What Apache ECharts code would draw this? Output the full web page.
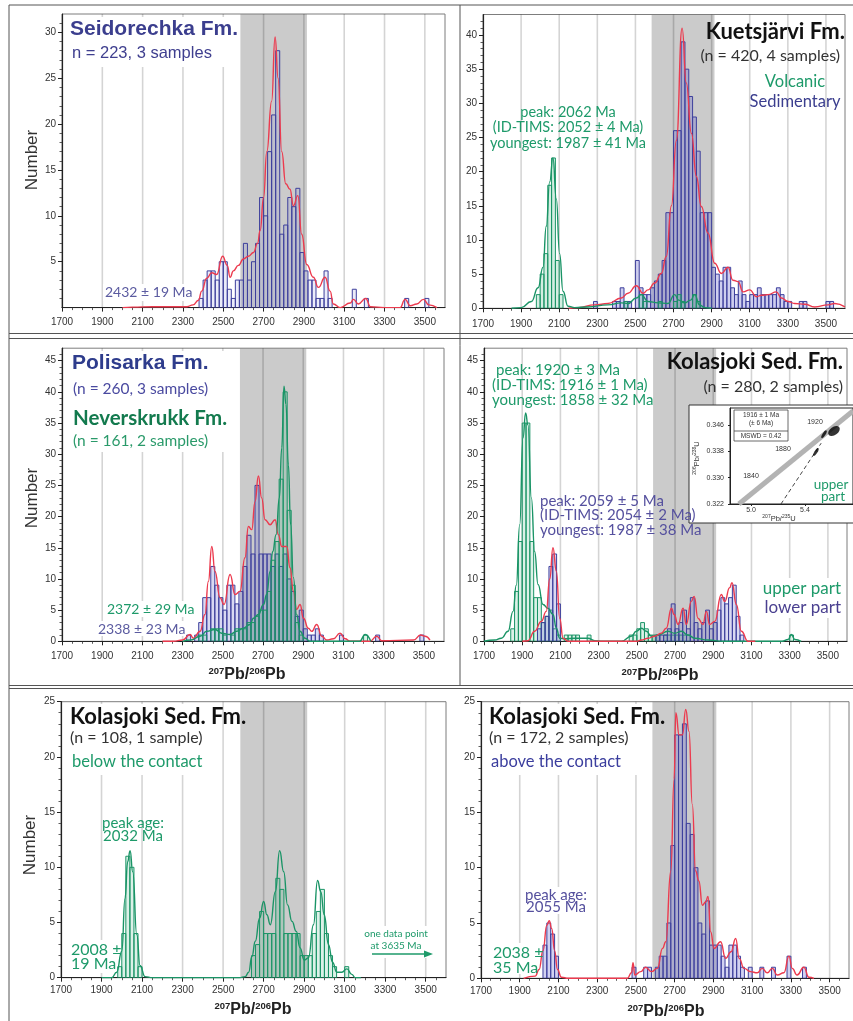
<!DOCTYPE html>
<html><head><meta charset="utf-8">
<script src="https://cdn.jsdelivr.net/npm/echarts@6/dist/echarts.min.js"></script>
<style>html,body{margin:0;padding:0;background:#fff}#c{width:853px;height:1021px}</style>
</head><body><div id="c"></div><script>
// ---------------- data ----------------
const X_TICKS = [1700,1900,2100,2300,2500,2700,2900,3100,3300,3500];
const X_MIN = 1700, X_MAX = 3600, BIN = 20;
const BAND = [2585, 2915];
const Y_TICKS_1 = [5,10,15,20,25,30];
const Y_TICKS_2 = [0,5,10,15,20,25,30,35,40];
const Y_TICKS_3 = [0,5,10,15,20,25,30,35,40,45];
const Y_TICKS_4 = [0,5,10,15,20,25,30,35,40,45];
const Y_TICKS_5 = [0,5,10,15,20,25];
const Y_TICKS_6 = [0,5,10,15,20,25];

// Panel 1 Seidorechka
const seidStart = [2380,2400,2420,2440,2460,2480,2500,2520,2540,2560,2580,2600,2620,2640,2660,2680,2700,2720,2740,2760,2780,2800,2820,2840,2860,2880,2900,2920,2940,2960,2980,3000,3020,3140,3200,3400,3500];
const seidCount = [1,3,4,4,3,5,5,2,1,3,3,7,3,5,7,12,10,17,21,28,8,9,12,11,13,6,4,3,3,1,1,4,1,2,1,1,1];
const seidCurveAge = [2000,2050,2150,2250,2320,2350,2377,2393,2418,2443,2467,2497,2520,2534,2550,2575,2600,2625,2650,2670,2683,2700,2716,2740,2757,2772,2790,2810,2831,2848,2870,2889,2914,2947,2972,3005,3030,3046,3080,3130,3146,3170,3207,3230,3300,3377,3402,3427,3460,3493,3520,3560];
const seidCurveVal = [0,0.05,0.1,0.1,0.1,0.3,0.8,1.8,3.2,3.8,3.6,5.6,4.6,3.3,4,4.6,5.3,5.6,6,7,8.4,12,17,22.5,29.5,25,17,13.5,12.9,11.1,12.2,8,4.7,3.3,2.2,3.3,1.8,0.4,0,0.5,0.9,0.4,1.0,0.1,0,0,0.9,0.2,0.4,0.9,0.3,0];

// Panel 2 Kuetsjarvi
const kuSedStart = [2280,2380,2400,2420,2440,2460,2500,2520,2540,2560,2580,2600,2620,2640,2660,2680,2700,2720,2740,2760,2780,2800,2820,2840,2860,2880,2900,2920,2940,2960,2980,3000,3020,3040,3060,3080,3100,3120,3140,3160,3180,3200,3220,3240,3260,3280,3300,3360,3380,3500,3520];
const kuSedCount = [1,1,1,3,1,1,7,3,2,2,3,4,5,7,14,14,26,26,39,35,31,28,23,14,14,14,6,5,4,6,6,3,2,4,2,1,2,2,3,2,2,2,2,3,2,1,1,1,1,1,1];
const kuVolStart = [1980,2000,2020,2040,2060,2080,2100,2440,2520,2540,2620,2700,2720,2740,2800,2820];
const kuVolCount = [2,5,8,18,22,7,2,1,2,1,1,1,2,1,2,1];
const kuSedCurveAge = [2150,2200,2286,2356,2426,2461,2505,2540,2566,2601,2636,2662,2689,2715,2745,2767,2794,2820,2846,2881,2916,2951,2986,3012,3039,3065,3100,3135,3161,3196,3240,3266,3301,3336,3389,3441,3511,3546,3600];
const kuSedCurveVal = [0,0.1,0.5,0.7,1.5,2.2,3.3,2.2,2.7,3.7,5.1,7.6,15,24.6,41,33,25.6,19.3,14.9,11,6.6,5.1,6,4.1,3.9,2.4,2.7,1.7,1.9,2,2.4,1.5,1,0.7,0.6,0.2,0.5,0.7,0.2];
const kuVolCurveAge = [1850,1901,1954,1989,2015,2032,2050,2067,2085,2102,2120,2146,2181,2250,2356,2426,2461,2505,2531,2566,2619,2671,2706,2727,2758,2790,2811,2837,2864,2900];
const kuVolCurveVal = [0,0.1,1,3,6,12,18.5,22,16,8,2.5,0.3,0.1,0.2,0.5,0.8,0.7,1.5,2,1,0.8,0.7,2,1.2,0.8,1.2,2,0.5,0.1,0];

// Panel 3 Polisarka / Neverskrukk
const poliStart = [2320,2360,2380,2400,2420,2440,2460,2480,2500,2520,2540,2560,2580,2600,2620,2640,2660,2680,2700,2720,2740,2760,2780,2800,2820,2840,2860,2880,2900,2920,2940,2960,2980,3080,3260,3480];
const poliCount = [1,1,3,7,7,12,9,7,5,9,9,6,8,12,17,14,25,14,14,14,12,14,12,14,10,8,4,5,2,1,1,2,1,1,1,1];
const poliCurveAge = [2200,2254,2300,2337,2353,2387,2411,2428,2445,2461,2486,2506,2536,2561,2585,2610,2627,2644,2660,2677,2693,2710,2735,2760,2776,2793,2818,2834,2851,2867,2884,2901,2925,2942,2967,2992,3017,3050,3083,3108,3133,3230,3266,3290,3448,3484,3506,3530];
const poliCurveVal = [0,0,0.2,1.1,0.5,1.6,4.3,9.6,15.2,11.2,7,5.9,10.7,7.5,8,13.4,18.4,17.9,22.4,26.5,23,19.5,18.7,19.5,17.1,15.2,15.2,11.8,8,5.1,5.9,3.7,2.1,1.6,2.7,0.8,0.2,0.4,1.3,0.4,0,0,0.8,0.1,0.2,1,0.8,0.2];
const neverStart = [2380,2400,2440,2460,2480,2500,2540,2560,2580,2600,2620,2640,2660,2680,2700,2720,2740,2760,2780,2800,2820,2840,2860,2880,3200];
const neverCount = [1,1,2,2,2,1,1,2,2,2,3,3,4,5,5,8,13,16,26,40,21,9,3,1,1];
const neverCurveAge = [2300,2340,2387,2420,2461,2494,2536,2569,2602,2635,2652,2677,2702,2718,2735,2748,2765,2781,2793,2804,2814,2826,2837,2851,2867,2884,2909,2934,3180,3208,3236];
const neverCurveVal = [0,0.2,0.8,1.6,1.9,1.3,1.1,1.6,2.1,2.7,3.7,4.3,5.9,7.5,11.2,14.4,17.1,23,31,40.9,38,28.3,18.7,10.2,4.3,1.6,0.5,0,0,1.1,0];

// Panel 4 Kolasjoki upper / lower
const upperStart = [1840,1860,1880,1900,1920,1940,1960,1980,2000,2020,2040,2060,2080,2120,2140,2160,2180,2240,2460,2480,2500,2520,2540,2560,2580,2600,2640,2660,2680,2700,2720,2740,2760,3300];
const upperCount = [2,8,16,35,35,16,7,7,3,4,5,2,1,1,1,1,1,1,1,1,2,3,2,1,1,1,1,1,1,1,1,1,1,1];
const upperCurveAge = [1700,1756,1791,1826,1852,1869,1887,1904,1918,1930,1948,1965,1983,2009,2035,2061,2079,2096,2122,2175,2244,2279,2320,2420,2471,2497,2524,2550,2576,2611,2663,2698,2733,2768,2803,2873,2950,3260,3292,3309,3327,3360];
const upperCurveVal = [0,0.2,0.5,1.6,4.8,9,18.7,32.6,36.6,34.7,23,14.4,9.1,5.9,5.3,4.3,2.1,0.5,0.4,0.5,0.5,0.1,0,0,0.8,1.6,2.1,1.6,0.8,1,1.6,1.3,1.6,1,0.5,0.2,0,0,0.3,1.1,0.3,0];
const lowerStart = [1980,2000,2020,2040,2060,2080,2600,2620,2640,2660,2680,2700,2720,2740,2760,2780,2800,2820,2840,2860,2880,2900,2920,2940,2960,2980,3000,3020,3040];
const lowerCount = [2,3,4,12,14,6,1,1,1,2,6,2,3,5,2,7,3,2,3,5,2,3,5,7,6,7,9,4,1];
const lowerCurveAge = [1900,1930,1965,2000,2026,2044,2061,2079,2096,2114,2140,2500,2524,2559,2593,2628,2654,2681,2695,2716,2742,2759,2785,2800,2820,2846,2864,2881,2908,2942,2960,2986,2998,3021,3047,3082,3120];
const lowerCurveVal = [0,0.1,1.6,3.2,4.8,10,15,11.2,3.7,0.5,0,0,0.2,0.5,0.8,1.3,2.1,5.3,4.3,2.7,5.3,2.7,6.4,7.2,3.7,2.7,4.8,2.7,3.2,7.5,6.4,8.6,9.4,5.9,1.6,0,0];

// Panel 5 below the contact
const belowStart = [1980,2000,2020,2040,2060,2080,2640,2660,2680,2700,2720,2740,2760,2780,2800,2820,2840,2860,2880,2900,2920,2940,2960,2980,3000,3020,3040,3100];
const belowCount = [1,4,11,10,4,1,2,3,6,4,4,4,9,8,4,4,4,4,2,2,2,4,6,8,4,2,1,1];
const belowCurveAge = [1900,1950,1975,2000,2016,2029,2041,2054,2074,2090,2115,2150,2580,2609,2626,2642,2659,2680,2700,2716,2733,2758,2779,2799,2818,2840,2861,2880,2900,2921,2946,2966,2982,2999,3020,3040,3061,3086,3111,3135,3152,3180];
const belowCurveVal = [0,0,0.5,2.4,7.2,10.5,11.5,9.6,3.9,1.1,0.1,0,0,0.1,0.5,1.9,3.3,5.4,6.9,5.7,4.8,7.8,11.5,9.6,6.6,5.1,4.2,2.7,1.6,1.8,4.8,8.8,7.8,5.7,3,1.4,0.5,0.5,0.8,0.3,0,0];

// Panel 6 above the contact
const aboveStart = [2020,2040,2060,2080,2480,2540,2560,2600,2620,2640,2660,2680,2700,2720,2740,2760,2780,2800,2820,2840,2860,2880,2900,2920,2940,2960,2980,3000,3020,3040,3080,3140,3200,3280,3360];
const aboveCount = [3,5,4,2,1,1,1,1,2,2,5,12,22,22,23,14,13,10,5,4,7,3,3,3,2,1,3,3,2,1,1,1,1,2,1];
const aboveCurveAge = [1920,1980,2000,2020,2040,2052,2065,2080,2095,2115,2150,2456,2477,2485,2494,2525,2550,2580,2611,2637,2654,2680,2697,2706,2723,2740,2757,2774,2791,2808,2825,2843,2860,2872,2886,2903,2937,2963,2991,3015,3033,3058,3092,3126,3152,3178,3204,3230,3264,3290,3307,3332,3367,3393,3419];
const aboveCurveVal = [0,0.2,0.8,2.5,4.8,5.2,4.5,2.5,0.8,0.1,0,0,0.5,1.4,0.3,0.6,1,0.6,0.9,2.7,3.3,9.7,18,24,22,22,24.3,22.3,15.7,9.7,8.8,6.6,6.9,7.4,4.2,2.7,3.3,1.8,2.4,3.6,1.8,0.9,0.6,0.5,0.9,0.5,0.9,0.3,0.5,2,0.9,0.3,1,0.1,0];

// Inset (concordia)
const INSET_X_TICKS = [5.0, 5.4];
const INSET_Y_TICKS = [0.322, 0.330, 0.338, 0.346];
const concordiaX = [4.91, 5.756], concordiaY = [0.322, 0.3503];
const discordiaX = [5.222, 5.52], discordiaY = [0.322, 0.3405];
const ellipseX = [5.615], ellipseY = [0.3442];
const dashX = [5.481, 5.541], dashY = [0.3378, 0.3432];

// ---------------- styling / layout ----------------
const PURPLE = '#3d3f9c', GREEN = '#1a9466', RED = '#ec3a4e';
const GTXT = '#1e9a6a', PTXT = '#55509e';
const L = [
  {left:62, top:14, width:383, height:293.6, ymax:32, yt:Y_TICKS_1, xm:10},
  {left:483, top:14.5, width:362, height:293.8, ymax:43, yt:Y_TICKS_2, xm:11},
  {left:62, top:348.2, width:382, height:293.1, ymax:47, yt:Y_TICKS_3, xm:10},
  {left:484, top:348.2, width:363, height:293.1, ymax:47, yt:Y_TICKS_4, xm:10},
  {left:61, top:701.7, width:385, height:276, ymax:25, yt:Y_TICKS_5, xm:8},
  {left:481, top:701.7, width:368, height:276.6, ymax:25, yt:Y_TICKS_6, xm:8}
];

const grids = L.map(l => ({left:l.left, top:l.top, width:l.width, height:l.height, show:true,
  borderColor:'#7d7d7d', borderWidth:1, backgroundColor:'transparent', outerBoundsMode:'none', containLabel:false}));
grids.push({left:730, top:408, width:123, height:96, show:true, borderColor:'#222', borderWidth:1,
  backgroundColor:'#fff', z:60, outerBoundsMode:'none', containLabel:false});

const plain = v => String(Math.round(v));
const xAxes = L.map((l,i) => ({type:'value', gridIndex:i, min:X_MIN, max:X_MAX, interval:200,
  axisLine:{show:true, onZero:false, lineStyle:{color:'#222', width:1.2}},
  axisTick:{show:true, customValues:X_TICKS, length:4, lineStyle:{color:'#222', width:1}},
  minorTick:{show:true, splitNumber:4, length:2.5, lineStyle:{color:'#333', width:0.8}},
  axisLabel:{customValues:X_TICKS, fontSize:10, color:'#333', margin:l.xm, fontFamily:'Liberation Sans', formatter:plain},
  splitLine:{show:false}}));
const yAxes = L.map((l,i) => ({type:'value', gridIndex:i, min:0, max:l.ymax, interval:5,
  axisLine:{show:true, onZero:false, lineStyle:{color:'#222', width:1.2}},
  axisTick:{show:true, customValues:l.yt, length:4, lineStyle:{color:'#222', width:1}},
  minorTick:{show:true, splitNumber:5, length:2.5, lineStyle:{color:'#333', width:0.8}},
  axisLabel:{customValues:l.yt, fontSize:10, color:'#333', margin:6, fontFamily:'Liberation Sans', formatter:plain},
  splitLine:{show:false}}));
xAxes.push({type:'value', gridIndex:6, min:4.844, max:5.756, z:61,
  axisLine:{show:true, onZero:false, lineStyle:{color:'#222', width:1}},
  axisTick:{show:true, customValues:INSET_X_TICKS, length:2, lineStyle:{color:'#222'}},
  axisLabel:{customValues:INSET_X_TICKS, fontSize:7, color:'#333', margin:3, fontFamily:'Liberation Sans', formatter:v=>(+v).toFixed(1)},
  splitLine:{show:false}});
yAxes.push({type:'value', gridIndex:6, min:0.322, max:0.3512, z:61,
  axisLine:{show:true, onZero:false, lineStyle:{color:'#222', width:1}},
  axisTick:{show:true, customValues:INSET_Y_TICKS, length:2, lineStyle:{color:'#222'}},
  axisLabel:{customValues:INSET_Y_TICKS, fontSize:7, color:'#333', margin:6, fontFamily:'Liberation Sans', formatter:v=>(+v).toFixed(3)},
  splitLine:{show:false}});

function bandSeries(g){
  return {type:'custom', xAxisIndex:g, yAxisIndex:g, z:-1, silent:true, animation:false,
    data:[[BAND[0], BAND[1]]], encode:{x:[0,1]},
    renderItem:function(params, api){
      const cs = params.coordSys;
      const a = api.coord([api.value(0), 0]), b = api.coord([api.value(1), 0]);
      return {type:'rect', shape:{x:a[0], y:cs.y, width:b[0]-a[0], height:cs.height}, style:{fill:'#cbcbcb'}};
    }};
}
function gridLineSeries(g){
  return {type:'custom', xAxisIndex:g, yAxisIndex:g, z:0, silent:true, animation:false,
    data:X_TICKS.slice(1).map(v=>[v,0]), encode:{x:0, y:1},
    renderItem:function(params, api){
      const cs = params.coordSys;
      const p = api.coord([api.value(0), 0]);
      return {type:'line', shape:{x1:p[0], y1:cs.y, x2:p[0], y2:cs.y+cs.height}, style:{stroke:'rgba(0,0,0,0.17)', lineWidth:1.6}};
    }};
}
function histSeries(g, starts, counts, fill, stroke, z){
  return {type:'custom', xAxisIndex:g, yAxisIndex:g, z:z||2, silent:true, animation:false, clip:true,
    data:starts.map((s,i)=>[s, counts[i]]), encode:{x:0, y:1},
    renderItem:function(params, api){
      const s = api.value(0), c = api.value(1);
      const p0 = api.coord([s, c]), p1 = api.coord([s+BIN, 0]);
      return {type:'rect', shape:{x:p0[0], y:p0[1], width:p1[0]-p0[0], height:p1[1]-p0[1]},
        style:{fill:fill, stroke:stroke, lineWidth:1}};
    }};
}
function curveSeries(g, ages, vals, color, z){
  return {type:'line', xAxisIndex:g, yAxisIndex:g, z:z||5, silent:true, animation:false,
    data:ages.map((a,i)=>[a, vals[i]]), smooth:0.5, smoothMonotone:'x', showSymbol:false, symbol:'none',
    lineStyle:{color:color, width:1.4}};
}

const series = [];
for (let g=0; g<6; g++){ series.push(bandSeries(g)); series.push(gridLineSeries(g)); }
// P1
series.push(histSeries(0, seidStart, seidCount, 'rgba(110,120,210,0.14)', PURPLE));
series.push(curveSeries(0, seidCurveAge, seidCurveVal, RED));
// P2
series.push(histSeries(1, kuSedStart, kuSedCount, 'rgba(105,105,205,0.33)', PURPLE));
series.push(histSeries(1, kuVolStart, kuVolCount, 'rgba(40,170,110,0.2)', GREEN, 3));
series.push(curveSeries(1, kuSedCurveAge, kuSedCurveVal, RED));
series.push(curveSeries(1, kuVolCurveAge, kuVolCurveVal, GREEN, 6));
// P3
series.push(histSeries(2, poliStart, poliCount, 'rgba(105,105,205,0.25)', PURPLE));
series.push(histSeries(2, neverStart, neverCount, 'rgba(40,170,110,0.16)', GREEN, 3));
series.push(curveSeries(2, poliCurveAge, poliCurveVal, RED));
series.push(curveSeries(2, neverCurveAge, neverCurveVal, GREEN, 6));
// P4
series.push(histSeries(3, upperStart, upperCount, 'rgba(40,170,110,0.16)', GREEN));
series.push(histSeries(3, lowerStart, lowerCount, 'rgba(105,105,205,0.25)', PURPLE, 3));
series.push(curveSeries(3, upperCurveAge, upperCurveVal, GREEN));
series.push(curveSeries(3, lowerCurveAge, lowerCurveVal, RED, 6));
// P5
series.push(histSeries(4, belowStart, belowCount, 'rgba(40,170,110,0.16)', GREEN));
series.push(curveSeries(4, belowCurveAge, belowCurveVal, GREEN));
// P6
series.push(histSeries(5, aboveStart, aboveCount, 'rgba(105,105,210,0.3)', PURPLE));
series.push(curveSeries(5, aboveCurveAge, aboveCurveVal, RED));
// Inset
series.push({type:'line', xAxisIndex:6, yAxisIndex:6, z:62, silent:true, animation:false, showSymbol:false, symbol:'none',
  data:concordiaX.map((x,i)=>[x, concordiaY[i]]), lineStyle:{color:'#b3b3b3', width:5}});
series.push({type:'line', xAxisIndex:6, yAxisIndex:6, z:62, silent:true, animation:false, showSymbol:false, symbol:'none',
  data:discordiaX.map((x,i)=>[x, discordiaY[i]]), lineStyle:{color:'#444', width:1, type:[4,3]}});
series.push({type:'scatter', xAxisIndex:6, yAxisIndex:6, z:63, silent:true, animation:false,
  data:ellipseX.map((x,i)=>[x, ellipseY[i]]), symbol:'circle', symbolSize:[13,8], symbolRotate:35, itemStyle:{color:'#000'}});
series.push({type:'scatter', xAxisIndex:6, yAxisIndex:6, z:63, silent:true, animation:false,
  data:dashX.map((x,i)=>[x, dashY[i]]), symbol:'circle', symbolSize:[9,3], symbolRotate:58, itemStyle:{color:'#000'}});

// ---------------- graphic (text, frames) ----------------
function T(x, y, text, o){
  o = o || {};
  const a = o.a || 'left';
  return {type:'text', x:x, y:y, rotation:o.rot||0, z:100, silent:true,
    style:{text:text, fill:o.c||'#222', fontSize:o.s||14, fontWeight:o.w||'normal', fontFamily:o.f||'Lato',
      align:a, verticalAlign:'middle', textAlign:a, textVerticalAlign:'middle'}};
}
function R(x, y, w, h, o){
  o = o || {};
  return {type:'rect', z:o.z||40, silent:true, shape:{x:x, y:y, width:w, height:h},
    style:{fill:o.fill||'#fff', stroke:o.stroke||null, lineWidth:o.lw||1}};
}
function Ln(x1, y1, x2, y2, o){
  o = o || {};
  return {type:'line', z:o.z||100, silent:true, shape:{x1:x1, y1:y1, x2:x2, y2:y2},
    style:{stroke:o.c||'#555', lineWidth:o.lw||1}};
}
function XT(cx, cy){
  return {type:'text', x:cx, y:cy, z:100, silent:true,
    style:{text:'{s|207}{b|Pb/}{s|206}{b|Pb}', align:'center', verticalAlign:'middle', textAlign:'center', textVerticalAlign:'middle',
      rich:{s:{fontSize:9.5, fontWeight:'bold', fontFamily:'Liberation Sans', fill:'#222', color:'#222', verticalAlign:'top', lineHeight:17},
            b:{fontSize:16, fontWeight:'bold', fontFamily:'Liberation Sans', fill:'#222', color:'#222', lineHeight:17}}}};
}
function smallRich(x, y, t1, t2, t3, t4, rot){
  return {type:'text', x:x, y:y, z:100, rotation:rot||0, silent:true,
    style:{text:'{s|'+t1+'}{b|'+t2+'}{s|'+t3+'}{b|'+t4+'}', align:'center', verticalAlign:'middle', textAlign:'center', textVerticalAlign:'middle',
      rich:{s:{fontSize:5, fontFamily:'Liberation Sans', fill:'#333', color:'#333', verticalAlign:'top', lineHeight:9},
            b:{fontSize:7.5, fontFamily:'Liberation Sans', fill:'#333', color:'#333', lineHeight:9}}}};
}
const NUM = {s:17, f:'Liberation Sans', c:'#333', a:'center', rot:Math.PI/2};

const graphics = [
  // white boxes behind labels
  R(66, 17, 172, 50), R(66, 351, 172, 101), R(64, 704, 152, 71), R(484, 704, 168, 71),
  R(103, 284, 90, 17), R(105, 601, 90, 16), R(95, 621, 90, 15), R(66, 940, 48, 33), R(488, 943, 46, 31),
  R(355, 926, 82, 32), R(527, 887, 58, 27), R(768, 578, 78, 40),
  // frames
  Ln(9, 5, 853, 5), Ln(9, 5, 9, 1021), Ln(9, 333.5, 853, 333.5), Ln(9, 338.5, 853, 338.5),
  Ln(9, 685.5, 853, 685.5), Ln(9, 688.5, 853, 688.5), Ln(460, 5, 460, 686),
  // P1
  T(70, 29, 'Seidorechka Fm.', {s:21, w:'bold', f:'Liberation Sans', c:'#3b3e8e'}),
  T(72, 53, 'n = 223, 3 samples', {s:16.5, f:'Liberation Sans', c:'#3f3f8f'}),
  T(105, 292, '2432 ± 19 Ma', {s:14, c:'#5b5ba0'}),
  T(32, 160, 'Number', NUM),
  // P2
  T(845, 32, 'Kuetsjärvi Fm.', {s:22, w:'bold', c:'#111', a:'right'}),
  T(840, 56, '(n = 420, 4 samples)', {s:16, c:'#333', a:'right'}),
  T(795, 82, 'Volcanic', {s:16.5, c:GTXT, a:'center'}),
  T(795, 102, 'Sedimentary', {s:16.5, c:'#3b3e8e', a:'center'}),
  T(568, 112, 'peak: 2062 Ma', {s:14.5, c:GTXT, a:'center'}),
  T(568, 127, '(ID-TIMS: 2052 ± 4 Ma)', {s:14.5, c:GTXT, a:'center'}),
  T(568, 143, 'youngest: 1987 ± 41 Ma', {s:14.5, c:GTXT, a:'center'}),
  // P3
  T(72, 363, 'Polisarka Fm.', {s:21, w:'bold', f:'Liberation Sans', c:'#2e3c8c'}),
  T(73, 389, '(n = 260, 3 samples)', {s:15.5, c:'#4a4aa0'}),
  T(73, 418, 'Neverskrukk Fm.', {s:20.5, w:'bold', c:'#137a4e'}),
  T(73, 441, '(n = 161, 2 samples)', {s:15.5, c:'#2a9a6a'}),
  T(107, 609, '2372 ± 29 Ma', {s:14, c:GTXT}),
  T(98, 629, '2338 ± 23 Ma', {s:14, c:'#5b5ba0'}),
  T(32, 498, 'Number', NUM),
  XT(247, 675),
  // P4
  T(843, 362, 'Kolasjoki Sed. Fm.', {s:22, w:'bold', c:'#111', a:'right'}),
  T(843, 387, '(n = 280, 2 samples)', {s:16, c:'#333', a:'right'}),
  T(496, 370, 'peak: 1920 ± 3 Ma', {s:15, c:GTXT}),
  T(492, 385, '(ID-TIMS: 1916 ± 1 Ma)', {s:15, c:GTXT}),
  T(492, 400, 'youngest: 1858 ± 32 Ma', {s:15, c:GTXT}),
  T(540, 501, 'peak: 2059 ± 5 Ma', {s:15, c:PTXT}),
  T(540, 515, '(ID-TIMS: 2054 ± 2 Ma)', {s:15, c:PTXT}),
  T(540, 530, 'youngest: 1987 ± 38 Ma', {s:15, c:PTXT}),
  T(841, 589, 'upper part', {s:17, c:GTXT, a:'right'}),
  T(841, 608, 'lower part', {s:17, c:'#4a4090', a:'right'}),
  XT(660, 676),
  // inset decorations
  R(689, 405, 170, 118, {z:50, fill:'#fff', stroke:'#333', lw:1}),
  R(734, 410, 54, 31, {z:100, fill:'#fff', stroke:'#444', lw:0.8}),
  Ln(734, 431, 788, 431, {c:'#444', lw:0.8}),
  T(761, 415, '1916 ± 1 Ma', {s:6.5, f:'Liberation Sans', c:'#333', a:'center'}),
  T(761, 423, '(± 6 Ma)', {s:6.5, f:'Liberation Sans', c:'#333', a:'center'}),
  T(761, 436, 'MSWD = 0.42', {s:6.5, f:'Liberation Sans', c:'#333', a:'center'}),
  T(815, 422, '1920', {s:7, f:'Liberation Sans', c:'#333', a:'center'}),
  T(783, 449, '1880', {s:7, f:'Liberation Sans', c:'#333', a:'center'}),
  T(751, 476, '1840', {s:7, f:'Liberation Sans', c:'#333', a:'center'}),
  smallRich(697, 458, '206', 'Pb/', '238', 'U', Math.PI/2),
  smallRich(779, 519, '207', 'Pb/', '235', 'U', 0),
  T(831, 485, 'upper', {s:13.5, c:GTXT, a:'center'}),
  T(833, 497, 'part', {s:13.5, c:GTXT, a:'center'}),
  // P5
  T(70, 717, 'Kolasjoki Sed. Fm.', {s:22, w:'bold', c:'#111'}),
  T(70, 738, '(n = 108, 1 sample)', {s:16, c:'#333'}),
  T(72, 762, 'below the contact', {s:16.5, c:GTXT}),
  T(133, 823, 'peak age:', {s:15, c:GTXT, a:'center'}),
  T(133, 836, '2032 Ma', {s:15, c:GTXT, a:'center'}),
  T(71, 950, '2008 ±', {s:16, c:GTXT}),
  T(71, 964, '19 Ma', {s:16, c:GTXT}),
  T(396, 934, 'one data point', {s:10, c:GTXT, a:'center'}),
  T(396, 946, 'at 3635 Ma', {s:10, c:GTXT, a:'center'}),
  Ln(372, 954, 426, 954, {c:GTXT, lw:1.5}),
  {type:'polygon', z:100, silent:true, shape:{points:[[433,954],[424,950.5],[424,957.5]]}, style:{fill:GTXT}},
  T(30, 845, 'Number', NUM),
  XT(253, 1010),
  // P6
  T(489, 717, 'Kolasjoki Sed. Fm.', {s:22, w:'bold', c:'#111'}),
  T(489, 738, '(n = 172, 2 samples)', {s:16, c:'#333'}),
  T(491, 762, 'above the contact', {s:16.5, c:'#3b3e9e'}),
  T(556, 895, 'peak age:', {s:15, c:PTXT, a:'center'}),
  T(556, 907, '2055 Ma', {s:15, c:PTXT, a:'center'}),
  T(493, 953, '2038 ±', {s:16, c:GTXT}),
  T(493, 968, '35 Ma', {s:16, c:GTXT}),
  XT(666, 1012)
];

const chart = echarts.init(document.getElementById('c'), null, {renderer:'canvas', width:853, height:1021});
chart.setOption({
  animation:false,
  backgroundColor:'#fff',
  grid:grids, xAxis:xAxes, yAxis:yAxes, series:series,
  graphic:{elements:graphics}
});
</script></body></html>
